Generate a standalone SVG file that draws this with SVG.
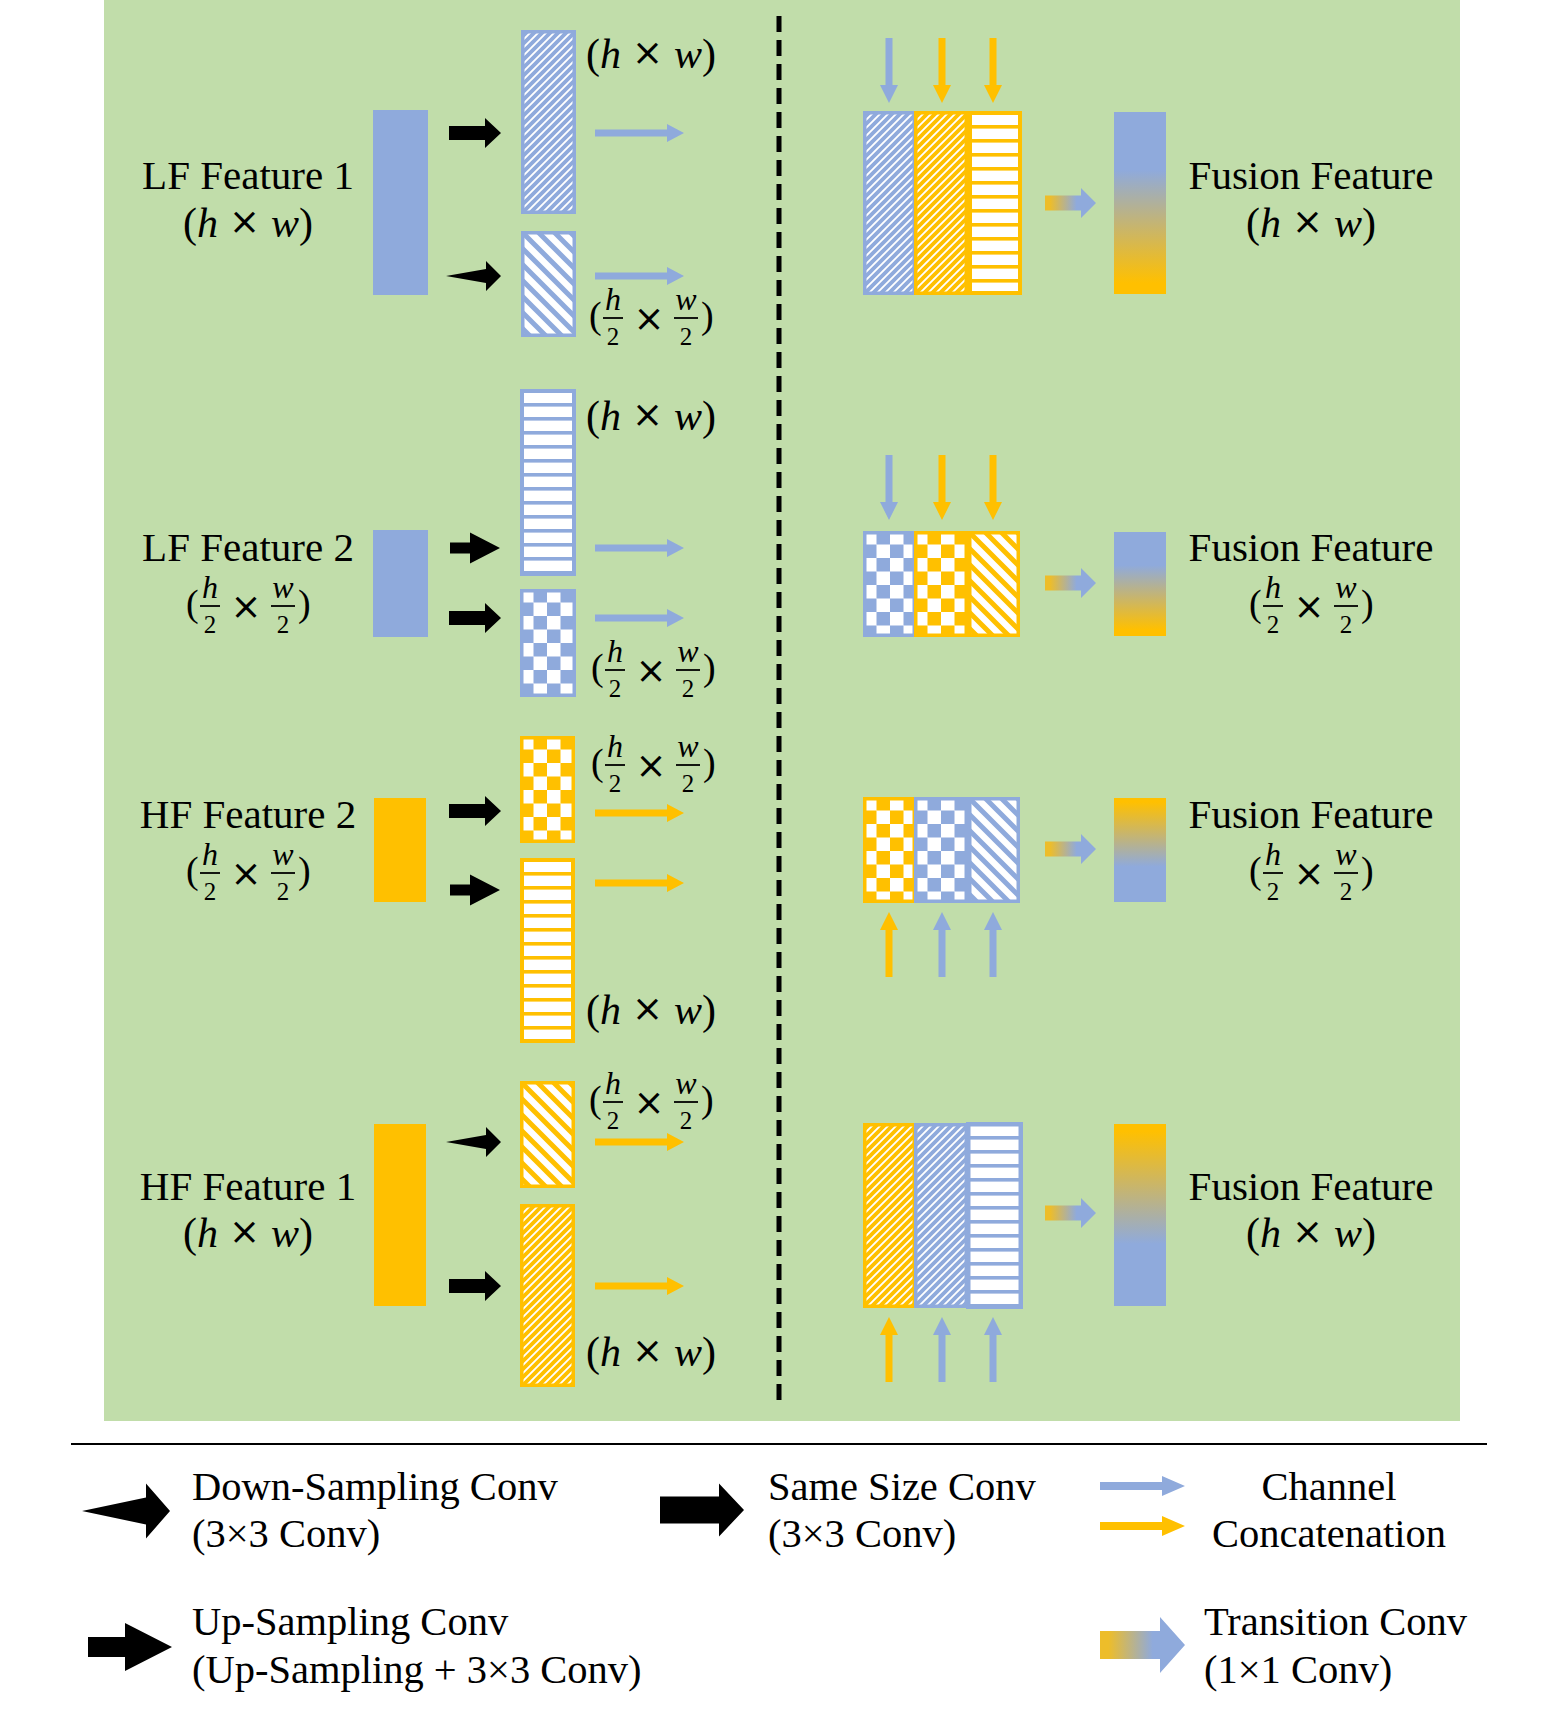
<svg xmlns="http://www.w3.org/2000/svg" xmlns:xlink="http://www.w3.org/1999/xlink" width="1547" height="1720" viewBox="0 0 1547 1720">
<style>
.lbl{font-family:"Liberation Serif",serif;font-size:41px;fill:#000;text-anchor:middle}
.lg{font-family:"Liberation Serif",serif;font-size:40.5px;fill:#000}
.m{font-family:"Liberation Serif",serif;font-size:42px;fill:#000;text-anchor:middle}
.i{font-style:italic}
.x{font-family:"DejaVu Sans",sans-serif;font-size:37px}
.fp{font-family:"Liberation Serif",serif;font-size:38px;fill:#000}
.fn{font-family:"Liberation Serif",serif;font-style:italic;font-size:32px;fill:#000;text-anchor:middle}
.fd{font-family:"Liberation Serif",serif;font-size:25px;fill:#000;text-anchor:middle}
.fx{font-family:"DejaVu Sans",sans-serif;font-size:37px;fill:#000;text-anchor:middle}
.bar{stroke:#000;stroke-width:1.8}
.blk{fill:#000}
.blu{fill:#8FAADC}
.org{fill:#FFC000}
.sb{stroke:#8FAADC;stroke-width:3.5}
.so{stroke:#FFC000;stroke-width:3.5}
</style>
<defs>
<pattern id="fdB" width="8" height="8" patternUnits="userSpaceOnUse"><rect width="8" height="8" fill="#fff"/><path d="M-2,2 L2,-2 M0,8 L8,0 M6,10 L10,6" stroke="#8FAADC" stroke-width="3.8"/></pattern>
<pattern id="fdO" width="8" height="8" patternUnits="userSpaceOnUse"><rect width="8" height="8" fill="#fff"/><path d="M-2,2 L2,-2 M0,8 L8,0 M6,10 L10,6" stroke="#FFC000" stroke-width="3.8"/></pattern>
<pattern id="wdB" width="16" height="16" patternUnits="userSpaceOnUse"><rect width="16" height="16" fill="#fff"/><path d="M-4,-4 L20,20 M-4,12 L4,20 M12,-4 L20,4" stroke="#8FAADC" stroke-width="5"/></pattern>
<pattern id="wdO" width="16" height="16" patternUnits="userSpaceOnUse"><rect width="16" height="16" fill="#fff"/><path d="M-4,-4 L20,20 M-4,12 L4,20 M12,-4 L20,4" stroke="#FFC000" stroke-width="5"/></pattern>
<pattern id="hsB" width="14" height="14" patternUnits="userSpaceOnUse"><rect width="14" height="14" fill="#fff"/><rect width="14" height="3.6" fill="#8FAADC"/></pattern>
<pattern id="hsO" width="14" height="14" patternUnits="userSpaceOnUse"><rect width="14" height="14" fill="#fff"/><rect width="14" height="3.6" fill="#FFC000"/></pattern>
<pattern id="ckB" width="27" height="27" patternUnits="userSpaceOnUse"><rect width="27" height="27" fill="#fff"/><rect x="13.5" width="13.5" height="13.5" fill="#8FAADC"/><rect y="13.5" width="13.5" height="13.5" fill="#8FAADC"/></pattern>
<pattern id="ckO" width="27" height="27" patternUnits="userSpaceOnUse"><rect width="27" height="27" fill="#fff"/><rect x="13.5" width="13.5" height="13.5" fill="#FFC000"/><rect y="13.5" width="13.5" height="13.5" fill="#FFC000"/></pattern>
<linearGradient id="gTr" x1="0" y1="0" x2="1" y2="0"><stop offset="0.1" stop-color="#EDBD2A"/><stop offset="0.62" stop-color="#8FAADC"/></linearGradient>
<linearGradient id="gBO" x1="0" y1="0" x2="0" y2="1"><stop offset="0.32" stop-color="#8FAADC"/><stop offset="0.94" stop-color="#FFC000"/></linearGradient>
<linearGradient id="gOB" x1="0" y1="0" x2="0" y2="1"><stop offset="0.04" stop-color="#FFC000"/><stop offset="0.66" stop-color="#8FAADC"/></linearGradient>
<path id="aSS" d="M0,-7 H36 V-15 L52,0 L36,15 V7 H0 Z"/>
<path id="aUP" d="M0,-5.5 H20 V-15.5 L50,0 L20,15.5 V5.5 H0 Z"/>
<path id="aDS" d="M0,0 L40,-7 V-15 L55,0 L40,15 V7 Z"/>
<path id="aCh" d="M0,-3.5 H72 V-9 L89,0 L72,9 V3.5 H0 Z"/>
<path id="aV" d="M0,-3.5 H47 V-9 L65,0 L47,9 V3.5 H0 Z"/>
<path id="aTr" d="M0,-7.5 H36 V-15 L51,0 L36,15 V7.5 H0 Z"/>
<g id="hw"><text class="m">(<tspan class="i">h</tspan><tspan class="x" dx="11" dy="-3">×</tspan><tspan class="i" dx="11" dy="3">w</tspan>)</text></g>
<g id="frac">
<text class="fp" x="-1" y="10">(</text>
<text class="fn" x="23" y="-8">h</text>
<line class="bar" x1="13" y1="0" x2="33" y2="0"/>
<text class="fd" x="23" y="27">2</text>
<text class="fx" x="59" y="13">×</text>
<text class="fn" x="96" y="-8">w</text>
<line class="bar" x1="84" y1="0" x2="108" y2="0"/>
<text class="fd" x="96" y="27">2</text>
<text class="fp" x="111" y="10">)</text>
</g>
</defs>

<rect id="background" x="104" y="0" width="1356" height="1421" fill="#C1DDAA"/>
<line id="divider" x1="779" y1="16" x2="779" y2="1404" stroke="#000" stroke-width="5" stroke-dasharray="16,8"/>

<!-- input features -->
<g id="lf1"><rect x="373" y="110" width="55" height="185" class="blu"/><text class="lbl" x="248" y="189">LF Feature 1</text><use href="#hw" x="248" y="237"/></g>
<g id="lf2"><rect x="373" y="530" width="55" height="107" class="blu"/><text class="lbl" x="248" y="561">LF Feature 2</text><use href="#frac" x="187" y="606"/></g>
<g id="hf2"><rect x="374" y="798" width="52" height="104" class="org"/><text class="lbl" x="248" y="828">HF Feature 2</text><use href="#frac" x="187" y="873"/></g>
<g id="hf1"><rect x="374" y="1124" width="52" height="182" class="org"/><text class="lbl" x="248" y="1200">HF Feature 1</text><use href="#hw" x="248" y="1247"/></g>

<!-- intermediate features -->
<g id="lf1-same" transform="translate(521,30)"><rect x="1.75" y="1.75" width="51.5" height="180.5" fill="url(#fdB)" class="sb"/></g>
<g id="lf1-same-label"><use href="#hw" x="651" y="68"/></g>
<g id="lf1-down" transform="translate(521,231)"><rect x="1.75" y="1.75" width="51.5" height="102.5" fill="url(#wdB)" class="sb"/></g>
<g id="lf1-down-label"><use href="#frac" x="590" y="318"/></g>

<g id="lf2-up" transform="translate(520,389)"><rect x="2" y="2" width="52" height="183" fill="url(#hsB)" stroke="#8FAADC" stroke-width="4"/></g>
<g id="lf2-up-label"><use href="#hw" x="651" y="430"/></g>
<g id="lf2-same" transform="translate(520,589)"><rect x="1.75" y="1.75" width="52.5" height="104.5" fill="url(#ckB)" class="sb"/></g>
<g id="lf2-same-label"><use href="#frac" x="592" y="670"/></g>

<g id="hf2-same" transform="translate(520,736)"><rect x="1.75" y="1.75" width="51.5" height="103.5" fill="url(#ckO)" class="so"/></g>
<g id="hf2-same-label"><use href="#frac" x="592" y="765"/></g>
<g id="hf2-up" transform="translate(520,858)"><rect x="2" y="2" width="51" height="181" fill="url(#hsO)" stroke="#FFC000" stroke-width="4"/></g>
<g id="hf2-up-label"><use href="#hw" x="651" y="1024"/></g>

<g id="hf1-down" transform="translate(520,1081)"><rect x="1.75" y="1.75" width="51.5" height="103.5" fill="url(#wdO)" class="so"/></g>
<g id="hf1-down-label"><use href="#frac" x="590" y="1102"/></g>
<g id="hf1-same" transform="translate(520,1204)"><rect x="1.75" y="1.75" width="51.5" height="179.5" fill="url(#fdO)" class="so"/></g>
<g id="hf1-same-label"><use href="#hw" x="651" y="1366"/></g>

<!-- concatenated blocks -->
<g id="concat1">
<g transform="translate(863,111)"><rect x="1.75" y="1.75" width="49.5" height="180.5" fill="url(#fdB)" class="sb"/></g>
<g transform="translate(914,111)"><rect x="1.75" y="1.75" width="50.5" height="180.5" fill="url(#fdO)" class="so"/></g>
<g transform="translate(968,111)"><rect x="2" y="2" width="50" height="180" fill="url(#hsO)" stroke="#FFC000" stroke-width="4"/></g>
</g>
<g id="concat2">
<g transform="translate(863,531)"><rect x="1.75" y="1.75" width="49.5" height="102.5" fill="url(#ckB)" class="sb"/></g>
<g transform="translate(914,531)"><rect x="1.75" y="1.75" width="50.5" height="102.5" fill="url(#ckO)" class="so"/></g>
<g transform="translate(968,531)"><rect x="1.75" y="1.75" width="48.5" height="102.5" fill="url(#wdO)" class="so"/></g>
</g>
<g id="concat3">
<g transform="translate(863,797)"><rect x="1.75" y="1.75" width="49.5" height="102.5" fill="url(#ckO)" class="so"/></g>
<g transform="translate(914,797)"><rect x="1.75" y="1.75" width="50.5" height="102.5" fill="url(#ckB)" class="sb"/></g>
<g transform="translate(968,797)"><rect x="1.75" y="1.75" width="48.5" height="102.5" fill="url(#wdB)" class="sb"/></g>
</g>
<g id="concat4">
<g transform="translate(863,1123)"><rect x="1.75" y="1.75" width="49.5" height="181.5" fill="url(#fdO)" class="so"/></g>
<g transform="translate(914,1123)"><rect x="1.75" y="1.75" width="50.5" height="181.5" fill="url(#fdB)" class="sb"/></g>
<g transform="translate(966,1122)"><rect x="2.25" y="2.25" width="52.5" height="182.5" fill="url(#hsB)" stroke="#8FAADC" stroke-width="4.5"/></g>
</g>

<!-- fusion features -->
<g id="fusion1"><rect x="1114" y="112" width="52" height="182" fill="url(#gBO)"/><text class="lbl" x="1311" y="189">Fusion Feature</text><use href="#hw" x="1311" y="237"/></g>
<g id="fusion2"><rect x="1114" y="532" width="52" height="104" fill="url(#gBO)"/><text class="lbl" x="1311" y="561">Fusion Feature</text><use href="#frac" x="1250" y="606"/></g>
<g id="fusion3"><rect x="1114" y="798" width="52" height="104" fill="url(#gOB)"/><text class="lbl" x="1311" y="828">Fusion Feature</text><use href="#frac" x="1250" y="873"/></g>
<g id="fusion4"><rect x="1114" y="1124" width="52" height="182" fill="url(#gOB)"/><text class="lbl" x="1311" y="1200">Fusion Feature</text><use href="#hw" x="1311" y="1247"/></g>

<g id="connectors">
<!-- black conv arrows -->
<use href="#aSS" x="449" y="133" class="blk"/>
<use href="#aDS" x="446" y="276" class="blk"/>
<use href="#aUP" x="450" y="548" class="blk"/>
<use href="#aSS" x="449" y="618" class="blk"/>
<use href="#aSS" x="449" y="811" class="blk"/>
<use href="#aUP" x="450" y="890" class="blk"/>
<use href="#aDS" x="446" y="1142" class="blk"/>
<use href="#aSS" x="449" y="1286" class="blk"/>
<!-- channel arrows -->
<use href="#aCh" x="595" y="133" class="blu"/>
<use href="#aCh" x="595" y="276" class="blu"/>
<use href="#aCh" x="595" y="548" class="blu"/>
<use href="#aCh" x="595" y="618" class="blu"/>
<use href="#aCh" x="595" y="813" class="org"/>
<use href="#aCh" x="595" y="883" class="org"/>
<use href="#aCh" x="595" y="1142" class="org"/>
<use href="#aCh" x="595" y="1286" class="org"/>
<!-- vertical concat arrows -->
<use href="#aV" transform="translate(889,38) rotate(90)" class="blu"/>
<use href="#aV" transform="translate(942,38) rotate(90)" class="org"/>
<use href="#aV" transform="translate(993,38) rotate(90)" class="org"/>
<use href="#aV" transform="translate(889,455) rotate(90)" class="blu"/>
<use href="#aV" transform="translate(942,455) rotate(90)" class="org"/>
<use href="#aV" transform="translate(993,455) rotate(90)" class="org"/>
<use href="#aV" transform="translate(889,977) rotate(-90)" class="org"/>
<use href="#aV" transform="translate(942,977) rotate(-90)" class="blu"/>
<use href="#aV" transform="translate(993,977) rotate(-90)" class="blu"/>
<use href="#aV" transform="translate(889,1382) rotate(-90)" class="org"/>
<use href="#aV" transform="translate(942,1382) rotate(-90)" class="blu"/>
<use href="#aV" transform="translate(993,1382) rotate(-90)" class="blu"/>
<!-- transition arrows -->
<use href="#aTr" x="1045" y="203" fill="url(#gTr)"/>
<use href="#aTr" x="1045" y="583" fill="url(#gTr)"/>
<use href="#aTr" x="1045" y="849" fill="url(#gTr)"/>
<use href="#aTr" x="1045" y="1213" fill="url(#gTr)"/>
</g>

<!-- legend -->
<line id="separator" x1="71" y1="1444" x2="1487" y2="1444" stroke="#000" stroke-width="2"/>
<g id="legend-down">
<path d="M82,1511 L146,1497.5 V1483.5 L170,1511 L146,1538.5 V1524.5 Z" class="blk"/>
<text class="lg" x="192" y="1500">Down-Sampling Conv</text>
<text class="lg" x="192" y="1547">(3×3 Conv)</text>
</g>
<g id="legend-up">
<path d="M88,1637 H125 V1623 L172,1647 L125,1671 V1657 H88 Z" class="blk"/>
<text class="lg" x="192" y="1635">Up-Sampling Conv</text>
<text class="lg" x="192" y="1683">(Up-Sampling + 3×3 Conv)</text>
</g>
<g id="legend-same">
<path d="M660,1496.5 H719 V1483.5 L744,1510 L719,1536.5 V1523.5 H660 Z" class="blk"/>
<text class="lg" x="768" y="1500">Same Size Conv</text>
<text class="lg" x="768" y="1547">(3×3 Conv)</text>
</g>
<g id="legend-channel">
<path d="M1100,1482 H1162 V1476 L1185,1486 L1162,1496 V1490 H1100 Z" class="blu"/>
<path d="M1100,1522 H1162 V1516 L1185,1526 L1162,1536 V1530 H1100 Z" class="org"/>
<text class="lg" x="1329" y="1500" text-anchor="middle">Channel</text>
<text class="lg" x="1329" y="1547" text-anchor="middle">Concatenation</text>
</g>
<g id="legend-transition">
<path d="M1100,1631 H1160 V1617 L1185,1645 L1160,1673 V1659 H1100 Z" fill="url(#gTr)"/>
<text class="lg" x="1204" y="1635">Transition Conv</text>
<text class="lg" x="1204" y="1683">(1×1 Conv)</text>
</g>
</svg>
